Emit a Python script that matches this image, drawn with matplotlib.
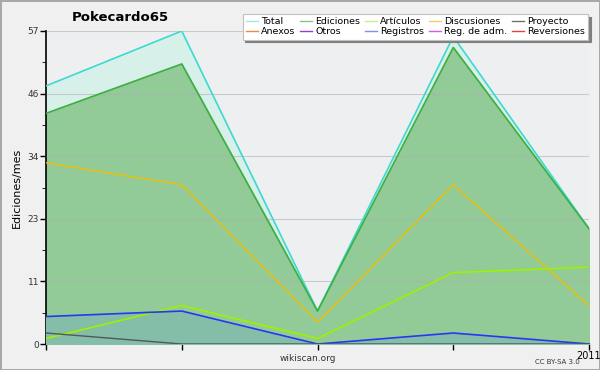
import matplotlib
matplotlib.use("Agg")
import matplotlib.pyplot as plt
import numpy as np
from matplotlib.lines import Line2D

# months (5 points, last one labelled 2011)
x = [0, 1, 2, 3, 4]
tick_labels = ["", "", "", "", "2011"]

total = [47, 57, 6, 56, 21]
ediciones = [42, 51, 6, 54, 21]
discusiones = [33, 29, 4, 29, 7]
articulos = [1, 7, 1, 13, 14]
registros = [5, 6, 0, 2, 0]
proyecto = [2, 0, 0, 0, 0]

ymax = 57
yticks = [0, 11.4, 22.8, 34.2, 45.6, 57]
ytick_labels = ["0", "11", "23", "34", "46", "57"]

fig = plt.figure(figsize=(6, 3.7), dpi=100, facecolor="#f0f0f0",
                 edgecolor="#a8a8a8", linewidth=2)
ax = fig.add_axes([46 / 600, 26 / 370, 543 / 600, 313 / 370])
ax.set_facecolor("#eeeff1")

ax.fill_between(x, total, color="#d8f0ea", zorder=1)
ax.plot(x, total, color="#40d8d0", lw=1.2, zorder=5)
ax.fill_between(x, ediciones, color="#92ca98", zorder=2)
ax.plot(x, ediciones, color="#3cb040", lw=1.2, zorder=5)
ax.fill_between(x, registros, color="#84bea8", zorder=3)
ax.plot(x, discusiones, color="#f0c000", lw=1, zorder=6)
ax.plot(x, articulos, color="#a0f000", lw=1.2, zorder=6)
ax.plot(x, registros, color="#2838f0", lw=1.2, zorder=6)
ax.plot(x, proyecto, color="#505860", lw=1, zorder=6)

ax.set_xlim(0, 4)
ax.set_ylim(0, ymax)
ax.set_yticks(yticks)
ax.set_yticklabels(ytick_labels, fontsize=6.5, color="#333333")
ax.set_yticks([(a + b) / 2 for a, b in zip(yticks[:-1], yticks[1:])], minor=True)
ax.set_xticks(x)
ax.set_xticklabels(tick_labels, fontsize=7)
ax.tick_params(axis="both", direction="out", length=4, width=1, pad=1)
ax.tick_params(axis="y", which="minor", length=3)
ax.grid(axis="y", color="#b0b0b0", lw=0.8, alpha=0.6, zorder=4)
ax.set_axisbelow(False)
for s in ["top", "right"]:
    ax.spines[s].set_visible(False)
ax.spines["left"].set_linewidth(1.2)
ax.spines["bottom"].set_linewidth(1.2)

ax.set_ylabel("Ediciones/mes", fontsize=8, labelpad=4)
fig.text(0.2, 0.952, "Pokecardo65", fontsize=9.5, fontweight="bold",
         ha="center", va="center")
fig.text(0.513, 0.032, "wikiscan.org", fontsize=6.5, ha="center", va="center",
         color="#333333")
fig.text(0.967, 0.022, "CC BY-SA 3.0", fontsize=5, ha="right", va="center",
         color="#333333")

# legend, column-major order
names = ["Total", "Anexos", "Ediciones", "Otros", "Artículos", "Registros",
         "Discusiones", "Reg. de adm.", "Proyecto", "Reversiones"]
colors = ["#a0e8e8", "#f08848", "#80c888", "#9040d8", "#c8f080", "#8090f0",
          "#f8d060", "#d060e0", "#707070", "#e84040"]
handles = [Line2D([], [], color=c, lw=1) for c in colors]
leg = fig.legend(handles, names, ncol=5, loc="upper right",
                 bbox_to_anchor=(0.988, 0.975), fontsize=6.8, frameon=True,
                 fancybox=False, shadow={"color": "#808080", "alpha": 1},
                 handlelength=1.3, handletextpad=0.3, columnspacing=0.5,
                 labelspacing=0.1, borderpad=0.35)
leg.get_frame().set_edgecolor("#c0c0c0")
leg.get_frame().set_linewidth(0.8)

fig.savefig("out.png", dpi=100, facecolor=fig.get_facecolor(),
            edgecolor=fig.get_edgecolor())
